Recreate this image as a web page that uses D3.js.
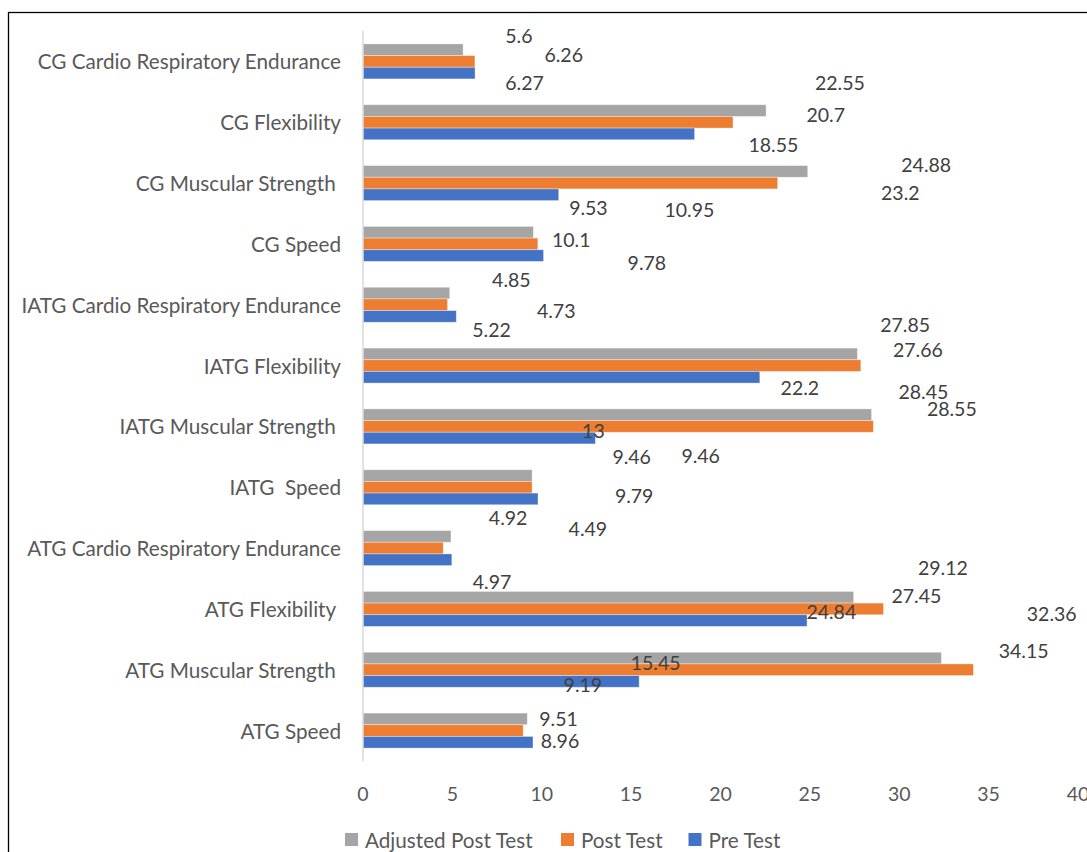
<!DOCTYPE html>
<html>
<head>
<meta charset="utf-8">
<script src="https://cdn.jsdelivr.net/npm/d3@7"></script>
<style>
  body { margin: 0; background: #fff; }
  text { font-family: Lato, "Open Sans", sans-serif; }
</style>
</head>
<body>
<div id="chart"></div>
<script>
"use strict";

// categories, top to bottom (trailing / double spaces are in the original)
const categories = [
  "CG Cardio Respiratory Endurance",
  "CG Flexibility",
  "CG Muscular Strength ",
  "CG Speed",
  "IATG Cardio Respiratory Endurance",
  "IATG Flexibility",
  "IATG Muscular Strength ",
  "IATG  Speed",
  "ATG Cardio Respiratory Endurance",
  "ATG Flexibility ",
  "ATG Muscular Strength ",
  "ATG Speed"
];

const seriesNames = ["Adjusted Post Test", "Post Test", "Pre Test"];
const seriesColors = ["#A5A5A5", "#ED7D31", "#4472C4"];

const adjustedPost = [5.6, 22.55, 24.88, 9.53, 4.85, 27.66, 28.45, 9.46, 4.92, 27.45, 32.36, 9.19];
const postTest = [6.26, 20.7, 23.2, 9.78, 4.73, 27.85, 28.55, 9.46, 4.49, 29.12, 34.15, 8.96];
const preTest = [6.27, 18.55, 10.95, 10.1, 5.22, 22.2, 13, 9.79, 4.97, 24.84, 15.45, 9.51];

const xTicks = [0, 5, 10, 15, 20, 25, 30, 35, 40];

// where the data labels ended up in the original: [value units, row units]
const adjustedLabelAt = [
  [8.72, 0.07], [26.68, 0.84], [31.51, 2.2], [12.61, 2.9], [8.3, 4.08], [31.04, 5.24],
  [31.35, 5.93], [15.03, 7.0], [8.12, 8.0], [30.96, 9.28], [38.53, 9.57], [12.3, 10.74]
];
const postLabelAt = [
  [11.23, 0.38], [25.89, 1.38], [30.06, 2.66], [15.88, 3.8], [10.81, 4.6], [30.33, 4.82],
  [32.94, 6.21], [18.89, 6.97], [12.58, 8.18], [32.44, 8.82], [36.96, 10.18], [11.02, 11.66]
];
const preLabelAt = [
  [9.04, 0.85], [22.96, 1.86], [18.26, 2.94], [11.65, 3.42], [7.19, 4.9], [24.44, 5.86],
  [12.89, 6.56], [15.17, 7.64], [7.22, 9.05], [26.2, 9.55], [16.37, 10.38], [10.94, 11.3]
];

const seriesValues = [adjustedPost, postTest, preTest];
const labelPositions = [adjustedLabelAt, postLabelAt, preLabelAt];

const width = 1087;
const height = 852;
const plot = { left: 363, right: 1078, top: 31, bottom: 761 };

const svg = d3
  .select("#chart")
  .append("svg")
  .attr("width", width)
  .attr("height", height);

// chart border
svg
  .append("rect")
  .attr("x", 8.5)
  .attr("y", 12.5)
  .attr("width", 1200)
  .attr("height", 1000)
  .attr("fill", "none")
  .attr("stroke", "#000")
  .attr("stroke-width", 1.3);

const x = d3.scaleLinear().domain([0, 40]).range([plot.left, plot.right]);

const y = d3
  .scaleBand()
  .domain(categories)
  .range([plot.top, plot.bottom])
  .paddingInner(0.4246)
  .paddingOuter(0.2123);

const ySub = d3
  .scaleBand()
  .domain(seriesNames)
  .range([0, y.bandwidth()]);

const row = d3.scaleLinear().domain([0, categories.length]).range([plot.top, plot.bottom]);

// bars
seriesNames.forEach((name, s) => {
  svg
    .append("g")
    .selectAll("rect")
    .data(seriesValues[s])
    .enter()
    .append("rect")
    .attr("x", x(0))
    .attr("y", (d, i) => y(categories[i]) + ySub(name))
    .attr("width", (d) => x(d) - x(0))
    .attr("height", ySub.bandwidth())
    .attr("fill", seriesColors[s])
    .attr("stroke", "#fff")
    .attr("stroke-opacity", 0.45)
    .attr("stroke-width", 0.8);
});

// vertical axis line
svg
  .append("line")
  .attr("x1", x(0))
  .attr("x2", x(0))
  .attr("y1", plot.top)
  .attr("y2", plot.bottom)
  .attr("stroke", "#D9D9D9")
  .attr("stroke-width", 1.5);

// category labels
svg
  .append("g")
  .selectAll("text")
  .data(categories)
  .enter()
  .append("text")
  .attr("x", 341)
  .attr("y", (d) => y(d) + y.bandwidth() / 2)
  .attr("text-anchor", "end")
  .attr("dominant-baseline", "central")
  .attr("font-size", "20.7px")
  .attr("fill", "#595959")
  .style("white-space", "pre")
  .text((d) => d);

// x axis tick labels
svg
  .append("g")
  .selectAll("text")
  .data(xTicks)
  .enter()
  .append("text")
  .attr("x", (d) => x(d))
  .attr("y", 793)
  .attr("text-anchor", "middle")
  .attr("dominant-baseline", "central")
  .attr("font-size", "19.5px")
  .attr("fill", "#595959")
  .text((d) => d);

// data labels, at their displaced spots
seriesNames.forEach((name, s) => {
  svg
    .append("g")
    .selectAll("text")
    .data(seriesValues[s])
    .enter()
    .append("text")
    .attr("x", (d, i) => x(labelPositions[s][i][0]))
    .attr("y", (d, i) => row(labelPositions[s][i][1]))
    .attr("text-anchor", "middle")
    .attr("dominant-baseline", "central")
    .attr("font-size", "19.5px")
    .attr("fill", "#404040")
    .text((d) => d);
});

// legend
const legendX = [345, 561, 688.5];
const legend = svg
  .append("g")
  .selectAll("g")
  .data(seriesNames)
  .enter()
  .append("g")
  .attr("transform", (d, i) => `translate(${legendX[i]}, 840)`);

legend
  .append("rect")
  .attr("x", 0)
  .attr("y", -7)
  .attr("width", 13)
  .attr("height", 13)
  .attr("fill", (d, i) => seriesColors[i]);

legend
  .append("text")
  .attr("x", 20)
  .attr("y", 0)
  .attr("dominant-baseline", "central")
  .attr("font-size", "20.7px")
  .attr("fill", "#595959")
  .text((d) => d);
</script>
</body>
</html>
